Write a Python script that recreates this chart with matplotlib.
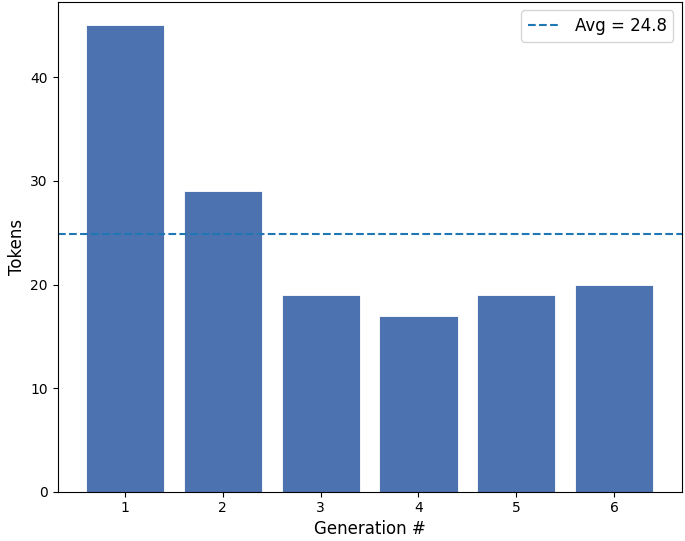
import matplotlib
matplotlib.use("Agg")
import matplotlib.pyplot as plt
import numpy as np

# tokens per generation
generations = [1, 2, 3, 4, 5, 6]
tokens = [45, 29, 19, 17, 19, 20]
avg = np.mean(tokens)

fig, ax = plt.subplots(figsize=(6.85, 5.41), dpi=100)
fig.subplots_adjust(left=0.084, right=0.995, top=0.996, bottom=0.091)

ax.bar(generations, tokens, width=0.8, color="#4C72B0", edgecolor="white", linewidth=0.6)
ax.axhline(avg, color="#1f77b4", linestyle="--", label=f"Avg = {avg:.1f}")

ax.set_xlabel("Generation #", fontsize=12, labelpad=3)
ax.set_ylabel("Tokens", fontsize=12, labelpad=3)
ax.set_xticks(generations)
ax.legend(loc="upper right", fontsize=12)

fig.savefig("out.png", dpi=100)
